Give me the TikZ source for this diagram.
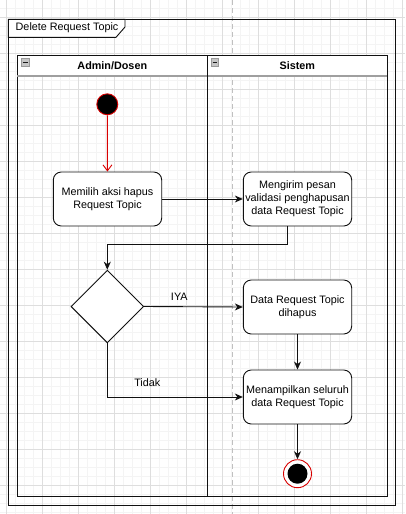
\documentclass[tikz,border=0pt]{standalone}
\usepackage{fontspec}
\setmainfont{Liberation Sans}
\usetikzlibrary{arrows.meta,shapes.geometric,calc}
\definecolor{gminor}{HTML}{F4F4F4}
\definecolor{gmajor}{HTML}{DEDEDE}
\definecolor{dashg}{HTML}{C0C0C0}
\definecolor{lineb}{HTML}{111111}
\newcommand{\dfont}{\fontsize{10.8}{13}\selectfont}
\tikzset{
  act/.style={draw=lineb, line width=0.9pt, rounded corners=8pt, fill=white,
    minimum width=108.4pt, minimum height=54pt, align=center, inner sep=1pt, font=\dfont},
  decis/.style={draw=lineb, line width=0.9pt, diamond, fill=white,
    minimum width=72.7pt, minimum height=72.7pt, inner sep=0pt},
  flow/.style={draw=lineb, line width=0.9pt, -{Stealth[length=8pt,width=7pt,inset=2.5pt]}},
  redflow/.style={draw=red!85!black, line width=0.9pt, -{Straight Barb[length=6pt,width=9pt]}},
  lbl/.style={font=\dfont, inner sep=0pt},
  hdr/.style={font=\dfont\bfseries, inner sep=0pt},
  mini/.style={draw=gray!80, fill=gray!45, line width=0.5pt},
}
\begin{document}
\begin{tikzpicture}[x=1pt,y=-1pt]
\useasboundingbox (0,0) rectangle (405,514);
\fill[white] (0,0) rectangle (405,514);
% grid
\foreach \i in {0,...,46} {\draw[gminor, line width=0.8pt] ({-2.5+9*\i},0) -- ({-2.5+9*\i},514);}
\foreach \j in {0,...,58} {\draw[gminor, line width=0.8pt] (0,{-1+9*\j}) -- (405,{-1+9*\j});}
\foreach \i in {0,...,11} {\draw[gmajor, line width=0.8pt] ({6.5+36*\i},0) -- ({6.5+36*\i},514);}
\foreach \j in {0,...,13} {\draw[gmajor, line width=0.8pt] (0,{17+36*\j}) -- (405,{17+36*\j});}
% page break line
\draw[dashg, line width=1pt, dash pattern=on 5pt off 3pt] (232.3,0) -- (232.3,514);
% frame
\draw[lineb, line width=0.9pt] (8.3,19.3) rectangle (395.7,505.3);
\draw[lineb, line width=0.9pt, fill=white] (8.3,19.3) -- (125,19.3) -- (125,27) -- (116,37.3) -- (8.3,37.3) -- cycle;
\node[lbl, anchor=west] (title) at (15.5,28.2) {Delete Request Topic};
% pool
\fill[white] (17.3,55) rectangle (387.3,76);
\draw[lineb, line width=0.9pt] (17.3,55) rectangle (387.3,496.3);
\draw[gray!75, line width=1.6pt] (17.3,76) -- (387.3,76);
\draw[lineb, line width=0.9pt] (207.3,55) -- (207.3,496.3);
\node[hdr] (lane1) at (112.3,65.5) {Admin/Dosen};
\node[hdr] (lane2) at (297.3,65.5) {Sistem};
\draw[mini] (21.5,58.5) rectangle (29,66);
\draw[gray!20!black, line width=1pt] (22.8,62.3) -- (27.7,62.3);
\draw[mini] (211.2,58.5) rectangle (218.7,66);
\draw[gray!20!black, line width=1pt] (212.5,62.3) -- (217.4,62.3);
% nodes
\node[circle, draw=red!85!black, line width=0.9pt, fill=black, minimum size=21pt, inner sep=0pt] (start) at (107.3,104.3) {};
\node[act] (a1) at (107.5,199) {Memilih aksi hapus\\Request Topic};
\node[act] (a2) at (297.5,199) {Mengirim pesan\\validasi penghapusan\\data Request Topic};
\node[decis] (d) at (107.3,306.5) {};
\node[act] (a3) at (297.5,307) {Data Request Topic\\dihapus};
\node[act] (a4) at (297.5,397) {Menampilkan seluruh\\data Request Topic};
\node[circle, draw=red!85!black, line width=0.9pt, fill=white, minimum size=28pt, inner sep=0pt] (endo) at (297.5,473.7) {};
\node[circle, fill=black, minimum size=20pt, inner sep=0pt] (endi) at (297.5,473.7) {};
% edges
\draw[redflow] (start) -- (a1);
\draw[flow] (a1.east) -- (a2.west);
\draw[flow] ($(a2.south)+(-9.8,0)$) -- ++(0,18.3) -| (d.north);
\draw[flow] (d.east) -- (a3.west);
\node[lbl] (iya) at (179.3,297) {IYA};
\draw[flow] (d.south) |- (a4.west);
\node[lbl] (tidak) at (147.3,382.7) {Tidak};
\draw[flow] (a3.south) -- (a4.north);
\draw[flow] (a4.south) -- (endo.north);
\end{tikzpicture}
\end{document}
